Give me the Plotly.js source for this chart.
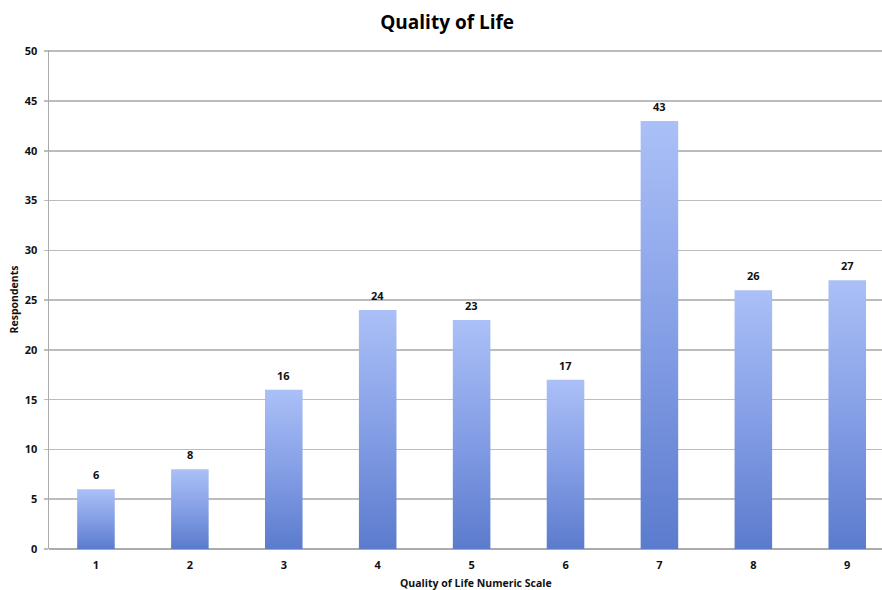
<!DOCTYPE html>
<html>
<head>
<meta charset="utf-8">
<script src="https://cdn.plot.ly/plotly-3.0.1.min.js"></script>
<style>
  html, body { margin: 0; padding: 0; background: #ffffff; }
  #chart { width: 882px; height: 590px; }
</style>
</head>
<body>
<div id="chart"></div>
<script>
// Quality of life scores (1–9) and number of respondents per score
const scaleLabels = ['1', '2', '3', '4', '5', '6', '7', '8', '9'];
const respondents = [6, 8, 16, 24, 23, 17, 43, 26, 27];
const yTicks = [0, 5, 10, 15, 20, 25, 30, 35, 40, 45, 50];

const fontFamily = 'Open Sans, DejaVu Sans, sans-serif';
const labelFont = { family: fontFamily, size: 11, color: '#111111', weight: 700 };

const scaleNums = scaleLabels.map(Number);

const trace = {
  type: 'bar',
  x: scaleNums,
  y: respondents,
  width: 0.4,
  marker: { color: '#7f9de6', line: { width: 0 } },
  hoverinfo: 'x+y'
};

// value labels sitting above each bar
const valueNotes = scaleNums.map((x, i) => ({
  x: x,
  y: respondents[i],
  xref: 'x',
  yref: 'y',
  text: String(respondents[i]),
  showarrow: false,
  yanchor: 'bottom',
  yshift: 5,
  font: labelFont
}));

// horizontal axis caption, placed under the tick labels
valueNotes.push({
  text: 'Quality of Life Numeric Scale',
  xref: 'paper',
  yref: 'paper',
  x: 0.513,
  y: 0,
  xanchor: 'center',
  yanchor: 'middle',
  yshift: -34,
  showarrow: false,
  font: { family: fontFamily, size: 10.5, color: '#111111', weight: 700 }
});

const layout = {
  width: 882,
  height: 590,
  margin: { l: 49, r: 0, t: 50, b: 41, pad: 0 },
  paper_bgcolor: '#ffffff',
  plot_bgcolor: '#ffffff',
  showlegend: false,
  title: {
    text: 'Quality of Life',
    font: { family: fontFamily, size: 19, color: '#000000', weight: 700 },
    x: 0.507,
    xref: 'container',
    xanchor: 'center',
    y: 0.962,
    yref: 'container',
    yanchor: 'middle'
  },
  xaxis: {
    range: [0.5, 9.37],
    tickmode: 'array',
    tickvals: scaleNums,
    ticktext: scaleLabels,
    showgrid: false,
    zeroline: false,
    showline: false,
    ticks: '',
    tickfont: labelFont,
    ticklabelstandoff: 8,
    fixedrange: true
  },
  yaxis: {
    range: [0, 50.12],
    tickmode: 'array',
    tickvals: yTicks,
    ticktext: yTicks.map(String),
    showgrid: true,
    gridcolor: '#bcbcbc',
    gridwidth: 1.6,
    zeroline: true,
    zerolinecolor: '#ababab',
    zerolinewidth: 2,
    showline: true,
    linecolor: '#ababab',
    linewidth: 1.5,
    ticks: 'outside',
    ticklen: 4,
    tickcolor: '#bcbcbc',
    tickwidth: 1.5,
    tickfont: labelFont,
    ticklabelstandoff: 4,
    title: {
      text: 'Respondents',
      font: { family: fontFamily, size: 10.5, color: '#111111', weight: 700 },
      standoff: 4
    },
    fixedrange: true
  },
  annotations: valueNotes
};

// vertical light-to-dark gradient applied to every bar
function shadeBars(gd) {
  const svg = gd.querySelector('.main-svg');
  const ns = 'http://www.w3.org/2000/svg';
  let defs = svg.querySelector('defs');
  if (!defs) { defs = document.createElementNS(ns, 'defs'); svg.insertBefore(defs, svg.firstChild); }
  if (!svg.querySelector('#barShade')) {
    const grad = document.createElementNS(ns, 'linearGradient');
    grad.setAttribute('id', 'barShade');
    grad.setAttribute('x1', '0'); grad.setAttribute('y1', '0');
    grad.setAttribute('x2', '0'); grad.setAttribute('y2', '1');
    [['0', '#abc0f7'], ['0.5', '#859fe6'], ['1', '#5b7bcd']].forEach(([o, c]) => {
      const s = document.createElementNS(ns, 'stop');
      s.setAttribute('offset', o);
      s.setAttribute('stop-color', c);
      grad.appendChild(s);
    });
    defs.appendChild(grad);
  }
  gd.querySelectorAll('.bars .point path').forEach(p => {
    p.style.setProperty('fill', 'url(#barShade)');
  });
}

const gd = document.getElementById('chart');
Plotly.newPlot(gd, [trace], layout, { staticPlot: true, displayModeBar: false }).then(() => shadeBars(gd));
</script>
</body>
</html>
